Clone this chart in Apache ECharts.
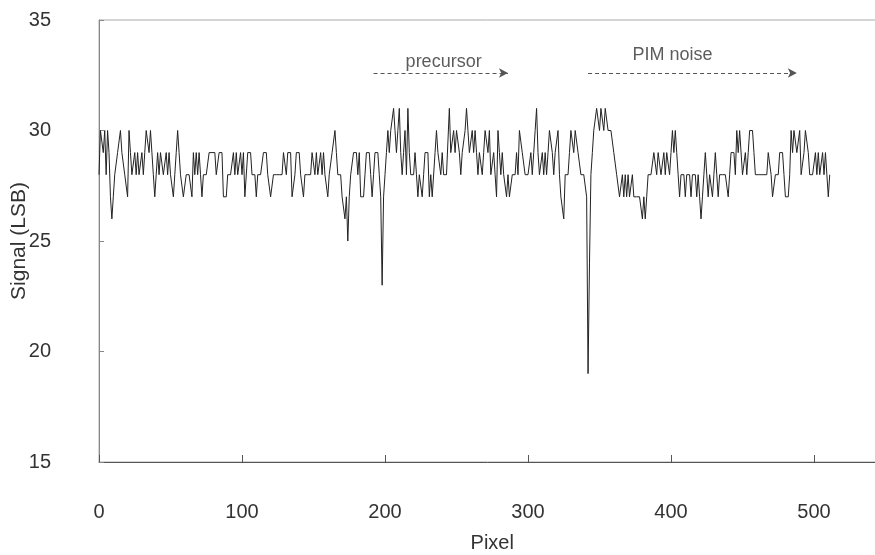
<!DOCTYPE html>
<html>
<head>
<meta charset="utf-8">
<script src="https://cdn.jsdelivr.net/npm/echarts@6/dist/echarts.min.js"></script>
<style>
html,body{margin:0;padding:0;background:#fff;}
#chart{width:875px;height:555px;}
</style>
</head>
<body>
<div id="chart"></div>
<script>
// Signal (LSB) for pixel 0..511
var signal = [
28,30,30,29,30,28,30,29,27,26,27,28,28,29,29,30,29,29,28,28,
27,30,29,28,28,29,28,29,28,28,29,28,29,30,30,29,30,29,28,27,
28,29,28,29,29,28,28,29,28,29,28,28,27,28,29,30,29,28,28,27,
27,28,28,28,28,27,29,28,29,28,29,28,27,28,28,28,28,29,29,29,
29,29,28,28,29,29,29,27,27,27,28,28,28,28,29,28,29,28,28,29,
28,29,27,27,29,29,29,28,28,28,27,28,28,28,28,29,29,29,28,28,
27,27,28,28,28,28,28,28,28,29,29,28,29,29,29,27,27,28,29,29,
29,28,28,27,28,28,28,28,28,29,29,28,29,28,28,29,28,29,28,28,
27,28,28,29,29,30,29,28,28,28,27,27,26,27,25,27,28,28,29,29,
29,28,29,27,27,27,28,29,29,29,28,27,28,29,29,29,28,27,23,27,
28,29,30,29,30,30,31,30,29,30,31,29,28,29,30,28,31,29,28,28,
28,29,28,27,28,28,27,28,29,29,29,27,28,27,27,29,30,29,29,28,
29,28,28,28,28,31,29,29,30,29,30,30,29,28,29,29,30,31,30,29,
29,30,29,30,29,28,29,29,28,29,30,30,29,30,28,28,29,28,27,30,
29,28,29,28,28,27,28,27,27,28,28,28,29,28,30,30,29,29,28,28,
28,28,29,28,29,30,31,29,28,28,29,28,29,28,29,30,30,29,28,29,
29,30,28,27,27,26,28,28,28,29,30,30,29,30,30,29,29,28,28,28,
28,27,19,24,28,29,30,30,31,31,30,31,31,30,31,31,30,30,30,30,
29,29,28,28,27,27,28,27,28,27,28,27,27,28,27,27,27,27,27,27,
26,27,26,27,28,28,28,28,29,29,28,29,29,28,28,29,28,29,29,28,
29,30,29,30,29,28,27,28,28,28,27,28,28,28,27,28,28,28,27,28,
27,26,27,28,29,28,27,28,28,27,28,29,28,27,28,28,28,28,28,28,
27,28,29,29,29,28,30,29,30,30,28,28,29,28,29,30,30,30,29,28,
28,28,28,28,28,28,28,28,29,29,28,27,27,28,28,28,29,29,29,28,
27,27,27,28,30,29,30,30,29,29,30,28,28,29,30,30,29,28,28,28,
28,29,28,29,28,28,29,28,29,28,27,28
];

// annotations
var annoLabels = ['precursor', 'PIM noise'];
var annoLabelX = [241, 401];
var annoLabelY = [33.1, 33.4];
var arrowStart = [192, 342];
var arrowEnd = [286, 488];
var arrowY = 32.6;

var xTicks = {min: 0, max: 550, interval: 100};
var yTicks = {min: 15, max: 35, interval: 5};

var points = signal.map(function (v, i) { return [i, v]; });
var labelPoints = annoLabels.map(function (t, k) {
  return {name: t, value: [annoLabelX[k], annoLabelY[k]]};
});
var arrows = arrowStart.map(function (s, k) {
  return [{coord: [s, arrowY]}, {coord: [arrowEnd[k], arrowY]}];
});

var font = 'Liberation Sans, Arial, sans-serif';
var chart = echarts.init(document.getElementById('chart'), null, {renderer: 'canvas'});
chart.setOption({
  animation: false,
  backgroundColor: '#fff',
  grid: {left: 99, top: 20, width: 786.5, height: 442, show: true, borderColor: '#aaa', borderWidth: 1,
         containLabel: false, outerBoundsMode: 'none'},
  xAxis: {
    type: 'value', min: xTicks.min, max: xTicks.max, interval: xTicks.interval,
    name: 'Pixel', nameLocation: 'middle', nameGap: 71, nameMoveOverlap: false,
    nameTextStyle: {fontSize: 20, color: '#333', fontFamily: font},
    axisLine: {lineStyle: {color: '#555', width: 1}},
    axisTick: {inside: true, length: 7, lineStyle: {color: '#555'}},
    axisLabel: {fontSize: 20, color: '#333', fontFamily: font, margin: 40, showMaxLabel: false},
    splitLine: {show: false}
  },
  yAxis: {
    type: 'value', min: yTicks.min, max: yTicks.max, interval: yTicks.interval,
    name: 'Signal (LSB)', nameLocation: 'middle', nameGap: 69, nameRotate: 90, nameMoveOverlap: false,
    nameTextStyle: {fontSize: 21, color: '#333', fontFamily: font},
    axisLine: {lineStyle: {color: '#888', width: 1}},
    axisTick: {inside: true, length: 5, lineStyle: {color: '#888'}},
    axisLabel: {fontSize: 20, color: '#333', fontFamily: font, margin: 48},
    splitLine: {show: false}
  },
  series: [
    {
      type: 'line', data: points, showSymbol: false, symbol: 'none',
      lineStyle: {color: '#222', width: 1},
      markLine: {
        silent: true, symbol: ['none', 'arrow'], symbolSize: [7, 9],
        lineStyle: {type: [4, 3], color: '#555', width: 1},
        label: {show: false},
        data: arrows
      }
    },
    {
      type: 'scatter', data: labelPoints, symbolSize: 0, silent: true,
      label: {show: true, position: 'inside', formatter: '{b}', fontSize: 18, color: '#333', fontFamily: font}
    }
  ]
});
</script>
</body>
</html>
